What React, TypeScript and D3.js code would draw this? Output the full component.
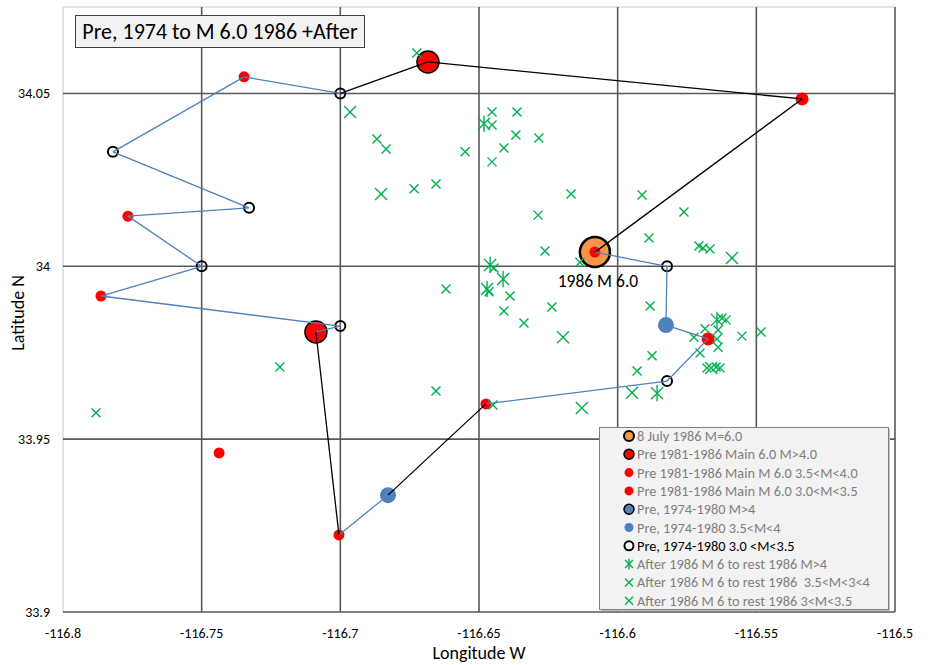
import React from "react";
import * as d3 from "d3";

// ---------- data ----------
const xTickValues = [-116.8, -116.75, -116.7, -116.65, -116.6, -116.55, -116.5];
const xTickLabels = ["-116.8", "-116.75", "-116.7", "-116.65", "-116.6", "-116.55", "-116.5"];
const yTickValues = [33.9, 33.95, 34, 34.05];
const yTickLabels = ["33.9", "33.95", "34", "34.05"];
const xDomain: [number, number] = [-116.8, -116.5];
const yDomain: [number, number] = [33.9, 34.075];

// chronological track (lon, lat)
const trackPoints: [number, number][] = [
  [-116.7088, 33.981],
  [-116.7, 33.9827],
  [-116.7863, 33.9914],
  [-116.75, 34.0],
  [-116.7766, 34.0145],
  [-116.7329, 34.0169],
  [-116.782, 34.0331],
  [-116.7347, 34.0548],
  [-116.7, 34.05],
  [-116.6684, 34.0591],
  [-116.5335, 34.0484],
  [-116.6082, 34.0041],
  [-116.5822, 34.0],
  [-116.5826, 33.983],
  [-116.5674, 33.979],
  [-116.5822, 33.9668],
  [-116.6475, 33.9602],
  [-116.6828, 33.9338],
  [-116.7005, 33.9223],
  [-116.7088, 33.981],
];
// segment style: "pre" = blue, "main" = black
const trackSegments = [
  "pre", "pre", "pre", "pre", "pre", "pre", "pre", "pre",
  "main", "main", "main",
  "pre", "pre", "pre", "pre", "pre",
  "main", "pre", "main",
];

const mainShock: [number, number][] = [[-116.6082, 34.0041]];
const redBig: [number, number][] = [[-116.7088, 33.981], [-116.6684, 34.0591]];
const redMid: [number, number][] = [[-116.5335, 34.0484], [-116.5674, 33.979]];
const redSmall: [number, number][] = [
  [-116.7863, 33.9914], [-116.7766, 34.0145], [-116.7347, 34.0548], [-116.6475, 33.9602],
  [-116.7005, 33.9223], [-116.7437, 33.946], [-116.6082, 34.0041],
];
const blueBig: [number, number][] = [];
const blueMid: [number, number][] = [[-116.5826, 33.983], [-116.6828, 33.9338]];
const openCircles: [number, number][] = [
  [-116.7, 33.9827], [-116.75, 34.0], [-116.7329, 34.0169], [-116.782, 34.0331],
  [-116.7, 34.05], [-116.5822, 34.0], [-116.5822, 33.9668],
];

const afterBig: [number, number][] = [
  [-116.6482, 34.0412], [-116.646, 34.0004], [-116.6413, 33.9963], [-116.6471, 33.9934],
  [-116.5858, 33.9633], [-116.5642, 33.9845],
];
const afterMid: [number, number][] = [
  [-116.6965, 34.0446], [-116.6853, 34.0209], [-116.6197, 33.9795], [-116.6129, 33.959],
  [-116.5948, 33.9634], [-116.5588, 34.0024], [-116.5663, 33.9706],
];
const afterSmall: [number, number][] = [
  [-116.6724, 34.0617], [-116.6868, 34.0368], [-116.6835, 34.0339], [-116.655, 34.0331],
  [-116.6453, 34.0446], [-116.6453, 34.0409], [-116.6363, 34.0446], [-116.6367, 34.038],
  [-116.6284, 34.0371], [-116.641, 34.0342], [-116.6453, 34.0302], [-116.6734, 34.0224],
  [-116.6655, 34.0238], [-116.6168, 34.0209], [-116.5912, 34.0206], [-116.5761, 34.0157],
  [-116.6287, 34.0148], [-116.5887, 34.0082], [-116.6262, 34.0044], [-116.5707, 34.0059],
  [-116.5692, 34.0053], [-116.5667, 34.005], [-116.6136, 34.0012], [-116.6446, 33.9995],
  [-116.6619, 33.9934], [-116.6464, 33.9926], [-116.6388, 33.9914], [-116.641, 33.9871],
  [-116.6338, 33.9836], [-116.6237, 33.9882], [-116.645, 33.9599], [-116.6655, 33.9639],
  [-116.7881, 33.9576], [-116.7218, 33.9709], [-116.5883, 33.9885], [-116.5876, 33.9741],
  [-116.593, 33.9697], [-116.5725, 33.9795], [-116.5685, 33.9819], [-116.5638, 33.9816],
  [-116.5642, 33.979], [-116.5638, 33.9766], [-116.5703, 33.9749], [-116.5624, 33.985],
  [-116.5609, 33.9845], [-116.5678, 33.9706], [-116.5645, 33.9709], [-116.5631, 33.9706],
  [-116.5552, 33.9798], [-116.5483, 33.981],
];

const legendLabels = [
  "8 July 1986 M=6.0",
  "Pre 1981-1986 Main 6.0 M>4.0",
  "Pre 1981-1986 Main M 6.0 3.5<M<4.0",
  "Pre 1981-1986 Main M 6.0 3.0<M<3.5",
  "Pre, 1974-1980 M>4",
  "Pre, 1974-1980 3.5<M<4",
  "Pre, 1974-1980 3.0 <M<3.5",
  "After 1986 M 6 to rest 1986 M>4",
  "After 1986 M 6 to rest 1986  3.5<M<3<4",
  "After 1986 M 6 to rest 1986 3<M<3.5",
];
const legendKinds = ["orange", "redOut", "red", "red", "blueOut", "blue", "open", "star", "x", "x"];

const titleText = "Pre, 1974 to M 6.0 1986 +After";
const mainLabel = "1986 M 6.0";

// ---------- styles ----------
const FONT = "Carlito, Calibri, 'Liberation Sans', Arial, sans-serif";
const RED = "#FF0000";
const BLUE = "#4F81BD";
const ORANGE = "#F79646";
const GREEN = "#00B050";
const GRID = "#595959";

const W = 928, H = 665;
const PL = 63, PT = 7, PR = 895, PB = 612;

function Cross({ x, y, s, star }: { x: number; y: number; s: number; star?: boolean }) {
  return (
    <g stroke={GREEN} strokeWidth={1.4} fill="none">
      <line x1={x - s} y1={y - s} x2={x + s} y2={y + s} />
      <line x1={x - s} y1={y + s} x2={x + s} y2={y - s} />
      {star && <line x1={x} y1={y - s * 1.35} x2={x} y2={y + s * 1.35} />}
    </g>
  );
}

function LegendMarker({ kind, x, y }: { kind: string; x: number; y: number }) {
  switch (kind) {
    case "orange":
      return <circle cx={x} cy={y} r={5} fill={ORANGE} stroke="#000" strokeWidth={2} />;
    case "redOut":
      return <circle cx={x} cy={y} r={5} fill={RED} stroke="#000" strokeWidth={1.5} />;
    case "red":
      return <circle cx={x} cy={y} r={4.5} fill={RED} />;
    case "blueOut":
      return <circle cx={x} cy={y} r={5} fill={BLUE} stroke="#000" strokeWidth={1.5} />;
    case "blue":
      return <circle cx={x} cy={y} r={4.5} fill={BLUE} />;
    case "open":
      return <circle cx={x} cy={y} r={4.5} fill="#fff" stroke="#000" strokeWidth={2} />;
    case "star":
      return <Cross x={x} y={y} s={4} star />;
    default:
      return <Cross x={x} y={y} s={4} />;
  }
}

export default function App() {
  const xs = d3.scaleLinear().domain(xDomain).range([PL, PR]);
  const ys = d3.scaleLinear().domain(yDomain).range([PB, PT]);
  const px = (p: [number, number]) => xs(p[0]);
  const py = (p: [number, number]) => ys(p[1]);

  const lineGen = d3.line<[number, number]>().x(px).y(py);

  const legX = 599, legY = 427, legW = 289, legH = 182;
  const rowY0 = 436, rowStep = 18.3;

  return (
    <svg width={W} height={H} style={{ position: "absolute", left: 0, top: 0, background: "#fff" }} fontFamily={FONT}>
      <rect x={0} y={0} width={W} height={H} fill="#fff" />
      {/* plot border (light) */}
      <line x1={PL} y1={PT} x2={PR} y2={PT} stroke="#D9D9D9" strokeWidth={1.5} />
      <line x1={PL} y1={PT} x2={PL} y2={PB} stroke="#D9D9D9" strokeWidth={1.5} />
      {/* grid */}
      {xTickValues.slice(1).map((v, i) => (
        <line key={"gx" + i} x1={xs(v)} x2={xs(v)} y1={PT} y2={PB} stroke={GRID} strokeWidth={1.6} />
      ))}
      {yTickValues.map((v, i) => (
        <line key={"gy" + i} x1={PL} x2={PR} y1={ys(v)} y2={ys(v)} stroke={GRID} strokeWidth={1.6} />
      ))}
      {/* tick labels */}
      {yTickValues.map((v, i) => (
        <text key={"ty" + i} x={50} y={ys(v) + 5} textAnchor="end" fontSize={14} fill="#000">
          {yTickLabels[i]}
        </text>
      ))}
      {xTickValues.map((v, i) => (
        <text key={"tx" + i} x={xs(v)} y={638} textAnchor="middle" fontSize={14} fill="#000">
          {xTickLabels[i]}
        </text>
      ))}
      {/* axis titles */}
      <text x={479} y={659} textAnchor="middle" fontSize={18} fill="#000">Longitude W</text>
      <text transform={`translate(24,${313}) rotate(-90)`} textAnchor="middle" fontSize={18} fill="#000">Latitude N</text>

      {/* markers */}
      {mainShock.map((p, i) => (
        <circle key={"ms" + i} cx={px(p)} cy={py(p)} r={15} fill={ORANGE} stroke="#000" strokeWidth={2.5} />
      ))}
      {redBig.map((p, i) => (
        <circle key={"rb" + i} cx={px(p)} cy={py(p)} r={11} fill={RED} stroke="#000" strokeWidth={1.5} />
      ))}
      {redMid.map((p, i) => (
        <circle key={"rm" + i} cx={px(p)} cy={py(p)} r={6.5} fill={RED} />
      ))}
      {redSmall.map((p, i) => (
        <circle key={"rs" + i} cx={px(p)} cy={py(p)} r={5.5} fill={RED} />
      ))}
      {blueBig.map((p, i) => (
        <circle key={"bb" + i} cx={px(p)} cy={py(p)} r={8} fill={BLUE} stroke="#000" strokeWidth={1.5} />
      ))}
      {blueMid.map((p, i) => (
        <circle key={"bm" + i} cx={px(p)} cy={py(p)} r={8} fill={BLUE} />
      ))}
      {openCircles.map((p, i) => (
        <circle key={"oc" + i} cx={px(p)} cy={py(p)} r={5} fill="none" stroke="#000" strokeWidth={2} />
      ))}
      {afterSmall.map((p, i) => (
        <Cross key={"as" + i} x={px(p)} y={py(p)} s={4.5} />
      ))}
      {afterMid.map((p, i) => (
        <Cross key={"am" + i} x={px(p)} y={py(p)} s={6} />
      ))}
      {afterBig.map((p, i) => (
        <Cross key={"ab" + i} x={px(p)} y={py(p)} s={6} star />
      ))}

      {/* track */}
      {trackSegments.map((t, i) => (
        <path
          key={"seg" + i}
          d={lineGen([trackPoints[i], trackPoints[i + 1]]) || ""}
          stroke={t === "pre" ? BLUE : "#000"}
          strokeWidth={1.3}
          fill="none"
        />
      ))}

      <text x={px(mainShock[0]) + 3} y={py(mainShock[0]) + 35} textAnchor="middle" fontSize={17.5} fill="#000">
        {mainLabel}
      </text>

      {/* title box */}
      <rect x={75.5} y={15.5} width={289} height={32} fill="#F2F2F2" stroke="#404040" strokeWidth={1} />
      <text x={220} y={39} textAnchor="middle" fontSize={22} fill="#000">{titleText}</text>

      {/* legend */}
      <rect x={legX + 2} y={legY + 2} width={legW} height={legH} fill="#BFBFBF" />
      <rect x={legX + 0.5} y={legY + 0.5} width={legW} height={legH} fill="#F2F2F2" stroke="#7F7F7F" strokeWidth={1} />
      {legendLabels.map((l, i) => (
        <g key={"lg" + i}>
          <LegendMarker kind={legendKinds[i]} x={629} y={rowY0 + i * rowStep} />
          <text
            x={637}
            y={rowY0 + i * rowStep + 5}
            fontSize={14.3}
            fill={legendKinds[i] === "open" ? "#000" : "#7F7F7F"}
            style={{ whiteSpace: "pre" }}
          >
            {l}
          </text>
        </g>
      ))}
    </svg>
  );
}
